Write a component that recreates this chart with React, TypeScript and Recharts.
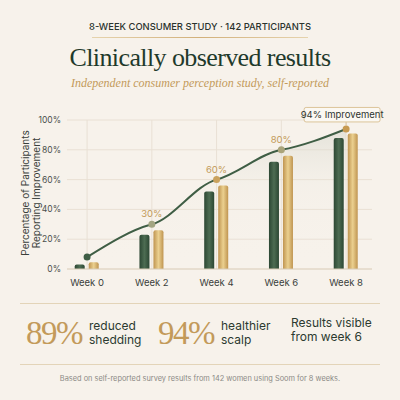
import React from 'react';
import {
  ComposedChart, Bar, Line, Area,
  XAxis, YAxis, CartesianGrid, LabelList
} from 'recharts';

const weeks = [0, 2, 4, 6, 8];
const weekLabels = ['Week 0', 'Week 2', 'Week 4', 'Week 6', 'Week 8'];
const reducedShedding = [3, 23, 52, 72, 88];
const healthierScalp = [4.5, 26, 56, 76, 91];
const improvement = [8, 30, 60, 80, 94];
const yTicks = [0, 20, 40, 60, 80, 100];
const gridLines = [10, 20, 30, 40, 50, 60, 70, 80, 90, 100];

const data = weeks.map((week, i) => ({
  week,
  shedding: reducedShedding[i],
  scalp: healthierScalp[i],
  improvement: improvement[i],
}));

const BG = '#f7f2eb';
const GREEN = '#1f3a2b';
const GOLD = '#c39a5a';
const SANS = 'Inter, "Noto Sans", sans-serif';
const SERIF = '"Liberation Serif", "DejaVu Serif", serif';

const DOT_COLORS = ['#3f5e45', '#a3a582', '#caa15c', '#aaa47a', '#c79a52'];

// Hermite curve whose slope at inner points is damped, so the line
// eases off at every week before climbing again.
const easedCurve = (alpha: number) => (context: any) => {
  let xs: number[] = [];
  let ys: number[] = [];
  let line = NaN;
  return {
    areaStart() { line = 0; },
    areaEnd() { line = NaN; },
    lineStart() { xs = []; ys = []; },
    point(x: number, y: number) { xs.push(+x); ys.push(+y); },
    lineEnd() {
      const n = xs.length;
      if (n > 0) {
        if (line) context.lineTo(xs[0], ys[0]);
        else context.moveTo(xs[0], ys[0]);
        if (n === 2) context.lineTo(xs[1], ys[1]);
        else if (n > 2) {
          const sec: number[] = [];
          for (let i = 0; i < n - 1; i++) sec.push((ys[i + 1] - ys[i]) / (xs[i + 1] - xs[i]) || 0);
          const m: number[] = new Array(n);
          for (let i = 1; i < n - 1; i++) m[i] = (alpha * (sec[i - 1] + sec[i])) / 2;
          m[0] = (3 * sec[0] - m[1]) / 2;
          m[n - 1] = (3 * sec[n - 2] - m[n - 2]) / 2;
          for (let i = 0; i < n - 1; i++) {
            const dx = (xs[i + 1] - xs[i]) / 3;
            context.bezierCurveTo(
              xs[i] + dx, ys[i] + m[i] * dx,
              xs[i + 1] - dx, ys[i + 1] - m[i + 1] * dx,
              xs[i + 1], ys[i + 1]
            );
          }
        }
      }
      if (line || (line !== 0 && n === 1)) context.closePath();
      line = 1 - line;
    },
  };
};
const curve = easedCurve(0.45);

const renderDot = (props: any) => {
  const { cx, cy, index } = props;
  return <circle key={`dot-${index}`} cx={cx} cy={cy} r={3.5} fill={DOT_COLORS[index]} />;
};

// value labels above the curve; the last point gets a callout box
const renderLabel = (props: any) => {
  const { x, y, value, index } = props;
  if (index === 0) return null;
  if (index === weeks.length - 1) {
    return (
      <g key={`lbl-${index}`}>
        <line x1={x} y1={y - 4} x2={x} y2={y - 7} stroke="#d9c4a0" strokeWidth={1} />
        <rect x={x - 42} y={y - 21.5} width={76} height={14.5} rx={2} fill="#fbf8f2" stroke="#dcc49a" strokeWidth={1} />
        <text x={x - 4} y={y - 11} textAnchor="middle" fontSize={9.5} fill="#2e3530" fontFamily={SANS}>
          {`${value}% Improvement`}
        </text>
      </g>
    );
  }
  return (
    <text key={`lbl-${index}`} x={x} y={y - 7} textAnchor="middle" fontSize={9.5} fill={GOLD} fontFamily={SANS}>
      {`${value}%`}
    </text>
  );
};

const YLabel = () => (
  <text transform="translate(34,193) rotate(-90)" textAnchor="middle" fontSize={10} fill="#3a3f3b" fontFamily={SANS}>
    <tspan x={0} dy={-5.5}>Percentage of Participants</tspan>
    <tspan x={0} dy={11}>Reporting Improvement</tspan>
  </text>
);

const Stat = ({ left, big, lines }: { left: number; big?: string; lines: string[] }) => (
  <div style={{ position: 'absolute', left, top: 316, display: 'flex', alignItems: 'center' }}>
    {big && (
      <span style={{ fontFamily: SERIF, fontSize: 33, letterSpacing: -1.5, color: GOLD, marginRight: 7, lineHeight: '34px' }}>{big}</span>
    )}
    <span style={{ fontFamily: SANS, fontSize: 12, color: '#2c3a30', lineHeight: '14px' }}>
      {lines.map((l) => <div key={l}>{l}</div>)}
    </span>
  </div>
);

export default function App() {
  return (
    <div style={{ position: 'absolute', left: 0, top: 0, width: 400, height: 400, background: BG, overflow: 'hidden' }}>
      <div style={{ position: 'absolute', top: 21, width: 400, textAlign: 'center', fontFamily: SANS, fontSize: 9.4, fontWeight: 500, color: '#2a332d' }}>
        8-WEEK CONSUMER STUDY · 142 PARTICIPANTS
      </div>
      <div style={{ position: 'absolute', top: 37, left: 92, width: 216, height: 1, background: 'linear-gradient(90deg, #e6d3ad, #d2b07a, #e6d3ad)' }} />
      <div style={{ position: 'absolute', top: 43, width: 400, textAlign: 'center', fontFamily: SERIF, fontSize: 26, letterSpacing: -0.6, color: GREEN }}>
        Clinically observed results
      </div>
      <div style={{ position: 'absolute', top: 76, width: 400, textAlign: 'center', fontFamily: SERIF, fontStyle: 'italic', fontSize: 12, color: GOLD }}>
        Independent consumer perception study, self-reported
      </div>

      <ComposedChart width={400} height={400} data={data} margin={{ top: 120, right: 28, bottom: 101, left: 0 }} style={{ position: 'absolute', left: 0, top: 0 }}>
        <defs>
          <linearGradient id="greenBar" x1="0" y1="0" x2="1" y2="0">
            <stop offset="0%" stopColor="#2c4733" />
            <stop offset="50%" stopColor="#4d6c52" />
            <stop offset="100%" stopColor="#2c4733" />
          </linearGradient>
          <linearGradient id="goldBar" x1="0" y1="0" x2="1" y2="0">
            <stop offset="0%" stopColor="#bf9450" />
            <stop offset="50%" stopColor="#ebd08f" />
            <stop offset="100%" stopColor="#bf9450" />
          </linearGradient>
          <linearGradient id="curveShade" x1="0" y1="0" x2="0" y2="1">
            <stop offset="0%" stopColor="#d3d4c9" stopOpacity={0.85} />
            <stop offset="40%" stopColor="#e9e7df" stopOpacity={0.3} />
            <stop offset="100%" stopColor={BG} stopOpacity={0} />
          </linearGradient>
        </defs>
        <CartesianGrid stroke="#e9e0d4" horizontalValues={gridLines} verticalValues={weeks} />
        <XAxis
          dataKey="week"
          type="number"
          domain={[-0.62, 8.8]}
          ticks={weeks}
          allowDataOverflow
          tickFormatter={(v: number) => weekLabels[weeks.indexOf(v)]}
          tick={{ fontSize: 9.5, fill: '#3a3f3b', fontFamily: SANS }}
          tickLine={false}
          axisLine={{ stroke: '#d8cab5' }}
          height={30}
          tickMargin={4}
        />
        <YAxis
          domain={[0, 100]}
          ticks={yTicks}
          tickFormatter={(v: number) => `${v}%`}
          tick={{ fontSize: 8.5, fill: '#4a4f4b', fontFamily: SANS }}
          tickLine={false}
          axisLine={false}
          width={67}
          tickMargin={0}
        />
        <Area type={curve} dataKey="improvement" stroke="none" fill="url(#curveShade)" isAnimationActive={false} />
        <Bar dataKey="shedding" barSize={10} fill="url(#greenBar)" radius={[2, 2, 0, 0]} isAnimationActive={false} />
        <Bar dataKey="scalp" barSize={10} fill="url(#goldBar)" radius={[2, 2, 0, 0]} isAnimationActive={false} />
        <Line type={curve} dataKey="improvement" stroke="#3f5e45" strokeWidth={2} dot={renderDot} activeDot={false} isAnimationActive={false}>
          <LabelList dataKey="improvement" content={renderLabel} />
        </Line>
        <YLabel />
      </ComposedChart>

      <div style={{ position: 'absolute', top: 303, left: 20, width: 360, height: 1, background: '#e3d4b8' }} />
      <Stat left={26} big="89%" lines={['reduced', 'shedding']} />
      <Stat left={158} big="94%" lines={['healthier', 'scalp']} />
      <Stat left={291} lines={['Results visible', 'from week 6']} />
      <div style={{ position: 'absolute', top: 364, left: 20, width: 360, height: 1, background: '#e3d4b8' }} />
      <div style={{ position: 'absolute', top: 374, width: 400, textAlign: 'center', fontFamily: SANS, fontSize: 7.4, color: '#8c8a86' }}>
        Based on self-reported survey results from 142 women using Soom for 8 weeks.
      </div>
    </div>
  );
}
